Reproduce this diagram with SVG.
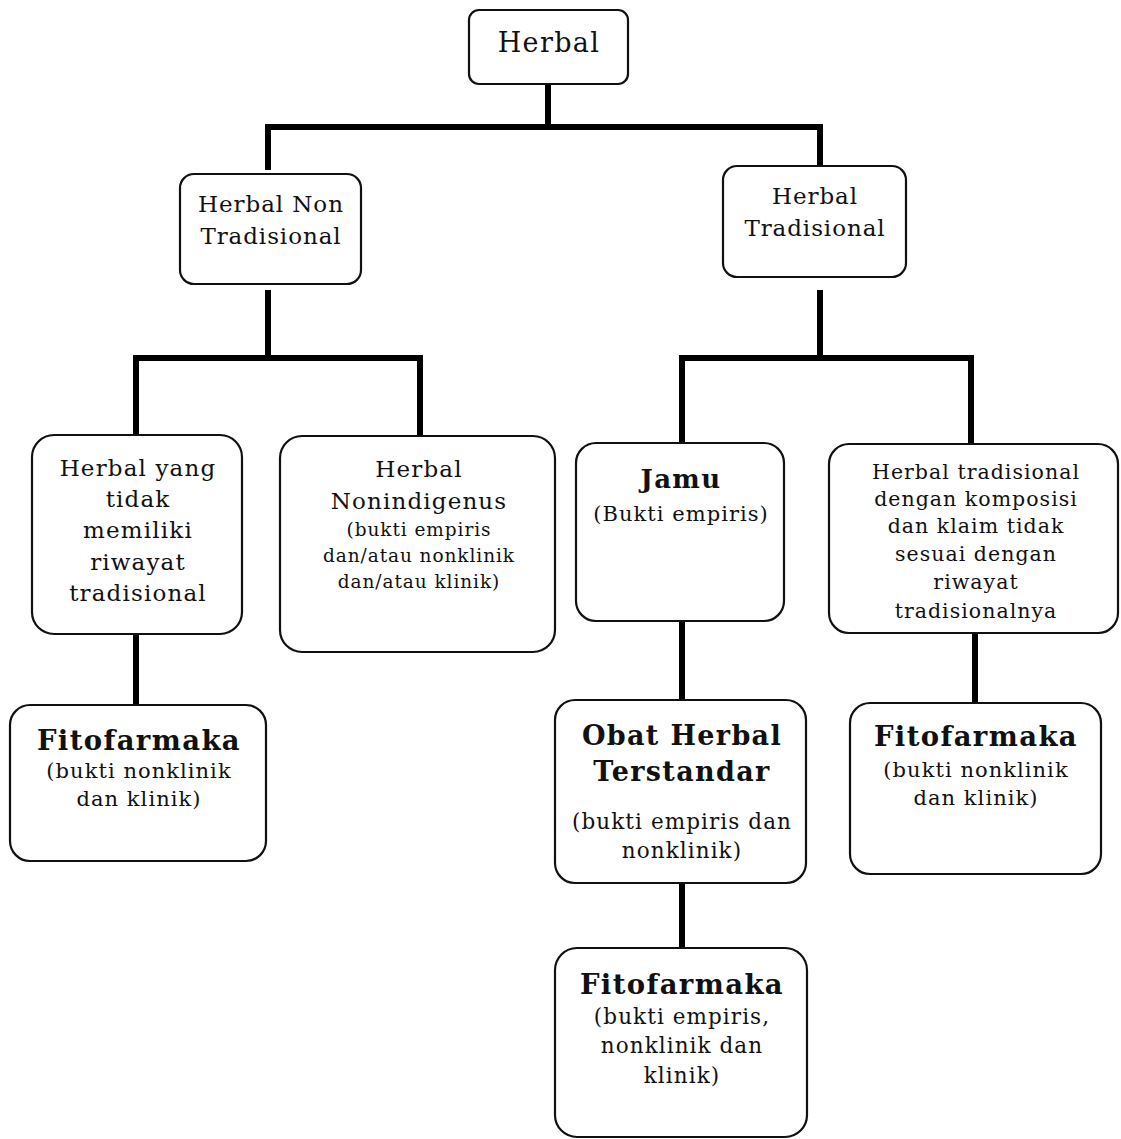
<svg xmlns="http://www.w3.org/2000/svg" width="1121" height="1139" viewBox="0 0 1121 1139">
<style>
.box{fill:#fff;stroke:#111;stroke-width:2.2}
.t{font-family:"DejaVu Serif","Liberation Serif",serif;fill:#111;text-anchor:middle;letter-spacing:0.05em}
.b{font-weight:bold}
.c{stroke:#000;stroke-width:6;fill:none;stroke-linecap:butt;stroke-linejoin:miter}
</style>
<rect width="1121" height="1139" fill="#fff"/>
<g id="connectors">
<path class="c" d="M548,84V127M268,170V127H820V165"/>
<path class="c" d="M268,290V358M136,440V358H420V437"/>
<path class="c" d="M820,290V358M682,445V358H971V444"/>
<path class="c" d="M136,634V705"/>
<path class="c" d="M682,621V700"/>
<path class="c" d="M682,883V948"/>
<path class="c" d="M975,633V703"/>
</g>
<g id="n-herbal">
<rect class="box" x="469" y="10" width="159" height="74" rx="10"/>
<text class="t" x="549" y="52" font-size="27">Herbal</text>
</g>
<g id="n-nontrad">
<rect class="box" x="180" y="174" width="181" height="110" rx="14"/>
<text class="t" x="271" y="212" font-size="23" style="letter-spacing:0.04em">Herbal Non</text>
<text class="t" x="271" y="244" font-size="23" style="letter-spacing:0.04em">Tradisional</text>
</g>
<g id="n-trad">
<rect class="box" x="723" y="166" width="183" height="111" rx="14"/>
<text class="t" x="815" y="204" font-size="23" style="letter-spacing:0.04em">Herbal</text>
<text class="t" x="815" y="236" font-size="23" style="letter-spacing:0.04em">Tradisional</text>
</g>
<g id="n-tidak">
<rect class="box" x="32" y="435" width="210" height="199" rx="22"/>
<text class="t" x="138" y="476" font-size="23">Herbal yang</text>
<text class="t" x="138" y="507" font-size="23">tidak</text>
<text class="t" x="138" y="538" font-size="23">memiliki</text>
<text class="t" x="138" y="570" font-size="23">riwayat</text>
<text class="t" x="138" y="601" font-size="23">tradisional</text>
</g>
<g id="n-nonindigenus">
<rect class="box" x="280" y="436" width="275" height="216" rx="22"/>
<text class="t" x="419" y="477" font-size="23">Herbal</text>
<text class="t" x="419" y="509" font-size="23">Nonindigenus</text>
<text class="t" x="419" y="536" font-size="18.5">(bukti empiris</text>
<text class="t" x="419" y="562" font-size="18.5">dan/atau nonklinik</text>
<text class="t" x="419" y="588" font-size="18.5">dan/atau klinik)</text>
</g>
<g id="n-jamu">
<rect class="box" x="576" y="443" width="208" height="178" rx="20"/>
<text class="t b" x="681" y="488" font-size="26">Jamu</text>
<text class="t" x="681" y="521" font-size="21">(Bukti empiris)</text>
</g>
<g id="n-komposisi">
<rect class="box" x="829" y="444" width="289" height="189" rx="20"/>
<text class="t" x="976" y="479" font-size="20.5">Herbal tradisional</text>
<text class="t" x="976" y="506" font-size="20.5">dengan komposisi</text>
<text class="t" x="976" y="533" font-size="20.5">dan klaim tidak</text>
<text class="t" x="976" y="561" font-size="20.5">sesuai dengan</text>
<text class="t" x="976" y="589" font-size="20.5">riwayat</text>
<text class="t" x="976" y="618" font-size="20.5">tradisionalnya</text>
</g>
<g id="n-fito1">
<rect class="box" x="10" y="705" width="256" height="156" rx="20"/>
<text class="t b" x="139" y="750" font-size="27.5">Fitofarmaka</text>
<text class="t" x="139" y="778" font-size="21">(bukti nonklinik</text>
<text class="t" x="139" y="806" font-size="21">dan klinik)</text>
</g>
<g id="n-oht">
<rect class="box" x="555" y="700" width="251" height="183" rx="20"/>
<text class="t b" x="682" y="745" font-size="27">Obat Herbal</text>
<text class="t b" x="682" y="781" font-size="27">Terstandar</text>
<text class="t" x="682" y="829" font-size="21.5">(bukti empiris dan</text>
<text class="t" x="682" y="858" font-size="21.5">nonklinik)</text>
</g>
<g id="n-fito3">
<rect class="box" x="850" y="703" width="251" height="171" rx="20"/>
<text class="t b" x="976" y="746" font-size="27.5">Fitofarmaka</text>
<text class="t" x="976" y="777" font-size="21">(bukti nonklinik</text>
<text class="t" x="976" y="805" font-size="21">dan klinik)</text>
</g>
<g id="n-fito2">
<rect class="box" x="555" y="948" width="252" height="189" rx="22"/>
<text class="t b" x="682" y="994" font-size="27.5">Fitofarmaka</text>
<text class="t" x="682" y="1024" font-size="21.5">(bukti empiris,</text>
<text class="t" x="682" y="1053" font-size="21.5">nonklinik dan</text>
<text class="t" x="682" y="1083" font-size="21.5">klinik)</text>
</g>
</svg>
